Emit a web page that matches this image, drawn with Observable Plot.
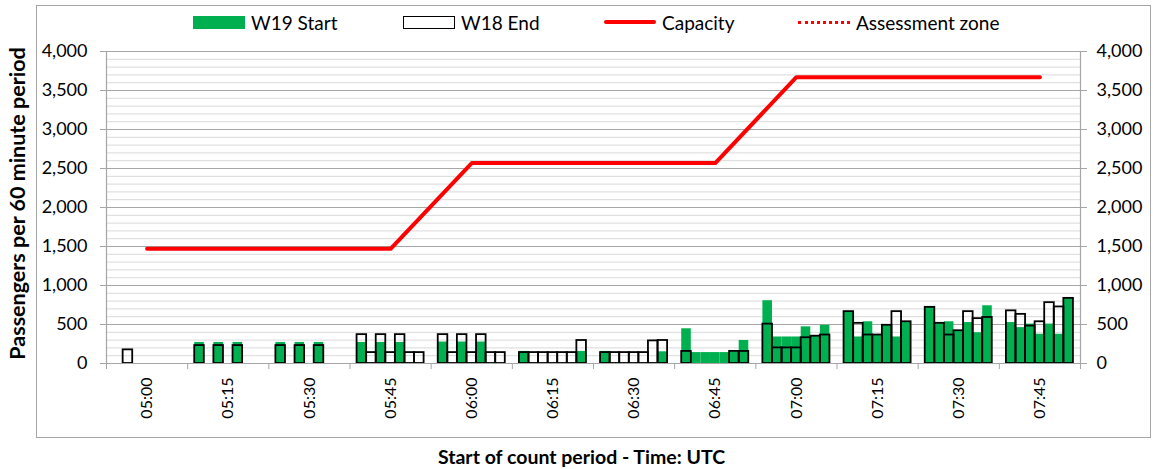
<!DOCTYPE html>
<html><head><meta charset="utf-8">
<script src="https://cdn.jsdelivr.net/npm/d3@7"></script>
<script src="https://cdn.jsdelivr.net/npm/@observablehq/plot@0.6"></script>
<style>
body{margin:0;background:#fff;font-family:Lato,"Open Sans",sans-serif;}
#wrap{position:relative;width:1153px;height:469px;overflow:hidden}
#chart{position:absolute;left:0;top:0}
#border{position:absolute;left:36px;top:5px;width:1113px;height:431px;border:1px solid #a6a6a6;pointer-events:none}
#legend{position:absolute;left:0;top:0;width:1153px;height:44px;font-size:19px;color:#000}
.li{position:absolute;top:10px;height:24px;display:flex;align-items:center;white-space:nowrap}
.sw{width:52px;margin-right:6px;box-sizing:border-box}
</style></head>
<body>
<div id="wrap">
  <div id="chart"></div>
  <div id="legend">
    <div class="li" style="left:193px"><div class="sw" style="height:13px;background:#00b050"></div>W19 Start</div>
    <div class="li" style="left:403px"><div class="sw" style="height:13px;border:1.5px solid #000;background:#fff"></div>W18 End</div>
    <div class="li" style="left:604px"><div class="sw" style="height:4px;background:#ff0000;border-radius:2px"></div>Capacity</div>
    <div class="li" style="left:798px"><div class="sw" style="height:0;border-top:3px dotted #ff0000"></div>Assessment zone</div>
  </div>
  <div id="border"></div>
</div>
<script>
// 15-minute groups (x tick labels)
const groups = ["05:00","05:15","05:30","05:45","06:00","06:15","06:30","06:45","07:00","07:15","07:30","07:45"];
// 7 sub-periods per group; null = no bar
const w19Start = [
  null, null, null, null, null, null, null,
  270, null, 270, null, 270, null, null,
  270, null, 270, null, 270, null, null,
  270, null, 270, null, 270, null, null,
  275, null, 275, null, 275, null, null,
  155, null, null, null, null, null, 155,
  155, null, null, null, null, null, 150,
  445, 140, 140, 140, 140, 150, 295,
  805, 340, 340, 340, 470, 350, 490,
  665, 340, 535, 360, 490, 340, 530,
  720, 510, 535, 415, 525, 395, 740,
  525, 460, 505, 375, 505, 375, 835
];
const w18End = [
  null, 175, null, null, null, null, null,
  230, null, 230, null, 230, null, null,
  230, null, 230, null, 230, null, null,
  370, 140, 370, 140, 370, 140, 140,
  370, 140, 370, 140, 370, 140, 140,
  140, 140, 140, 140, 140, 140, 295,
  140, 140, 140, 140, 140, 290, 295,
  155, null, null, null, null, 155, 155,
  505, 200, 200, 200, 330, 350, 365,
  665, 515, 365, 365, 490, 665, 535,
  720, 515, 365, 420, 665, 575, 590,
  675, 630, 480, 535, 780, 725, 835
];
// capacity per group
const capacity = [1470,1470,1470,1470,2570,2570,2570,2570,3670,3670,3670,3670];

const SLOTS = 7, W = 0.118, PAD = (1 - SLOTS * W) / 2;
const bars = w19Start.map((v, i) => {
  const g = Math.floor(i / SLOTS), s = i % SLOTS;
  const x1 = g + PAD + s * W;
  return {x1, x2: x1 + W, w19: v, w18: w18End[i]};
});
const cap = capacity.map((c, g) => ({x: g + 0.5, c}));
const minor = d3.range(100, 4001, 100).filter(v => v % 500 !== 0);
const major = d3.range(500, 4001, 500);
const yTicks = [0].concat(major);
const grey = "#a6a6a6";

const plot = Plot.plot({
  width: 1153, height: 469,
  marginLeft: 106, marginRight: 73, marginTop: 51, marginBottom: 106,
  style: {fontFamily: "Lato, 'Open Sans', sans-serif", fontSize: "18px", color: "#000", background: "#fff"},
  x: {domain: [0, 12], axis: null},
  y: {domain: [0, 4000], axis: null},
  marks: [
    Plot.ruleY(minor, {stroke: "#d9d9d9", strokeWidth: 1}),
    Plot.ruleY(major, {stroke: grey, strokeWidth: 1}),
    Plot.rectY(bars.filter(d => d.w19 != null), {x1: "x1", x2: "x2", y: "w19", fill: "#00b050"}),
    Plot.rectY(bars.filter(d => d.w18 != null), {x1: "x1", x2: "x2", y: "w18", fill: "none", stroke: "#000", strokeWidth: 1.8}),
    Plot.ruleY([0], {stroke: grey, strokeWidth: 1.2}),
    Plot.ruleX([0, 12], {stroke: grey, strokeWidth: 1.2}),
    Plot.line(cap, {x: "x", y: "c", stroke: "#ff0000", strokeWidth: 4, strokeLinecap: "round", strokeLinejoin: "round"}),
    Plot.axisY({anchor: "left", ticks: yTicks, tickFormat: d3.format(","), tickSize: 6, tickPadding: 13, stroke: grey, fill: "#000", fontSize: 18, label: null}),
    Plot.axisY({anchor: "right", ticks: yTicks, tickFormat: d3.format(","), tickSize: 6, tickPadding: 10, stroke: grey, fill: "#000", fontSize: 18, label: null}),
    Plot.axisX({ticks: d3.range(0, 13), tickFormat: () => "", tickSize: 6, stroke: grey, label: null}),
    Plot.axisX({ticks: d3.range(0, 12).map(g => g + 0.5), tickFormat: v => groups[Math.floor(v)], tickSize: 0, tickPadding: 14, tickRotate: -90, fill: "#000", fontSize: 16, label: null}),
    Plot.text(["Passengers per 60 minute period"], {frameAnchor: "left", textAnchor: "middle", rotate: -90, dx: -88, dy: -4, fontWeight: "bold", fontSize: 21.5, fill: "#000"}),
    Plot.text(["Start of count period - Time: UTC"], {frameAnchor: "bottom", dy: 100, dx: -12, fontWeight: "bold", fontSize: 19.5, fill: "#000"})
  ]
});
document.getElementById("chart").appendChild(plot);
</script>
</body></html>
